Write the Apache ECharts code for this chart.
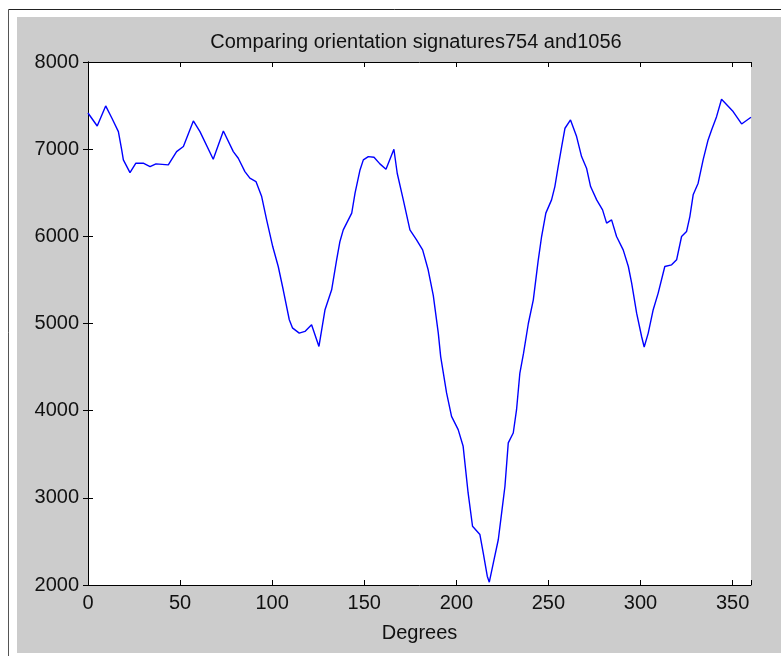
<!DOCTYPE html>
<html>
<head>
<meta charset="utf-8">
<script src="https://cdn.jsdelivr.net/npm/echarts@6/dist/echarts.min.js"></script>
<style>
html,body{margin:0;padding:0;background:#fff;}
#chart{width:781px;height:656px;}
</style>
</head>
<body>
<div id="chart"></div>
<script>
const titleText = 'Comparing orientation signatures754 and1056';
const xAxisName = 'Degrees';
const xTicks = [0, 50, 100, 150, 200, 250, 300, 350];
const yTicks = [2000, 3000, 4000, 5000, 6000, 7000, 8000];

const degrees = [0, 5, 9.6, 13, 16.5, 18.3, 19.2, 22.8, 26, 30, 33.7, 36.9, 43.6, 48.1, 51.8, 57.2, 60.8, 68, 73.5, 78.9, 81.6, 85.2, 87.9, 91.2, 94.3, 97, 100.3, 103.3, 106, 109.3, 111, 114.7, 117.8, 121.4, 125.4, 128.7, 132.3, 135, 136.8, 138.6, 143.2, 145, 147.7, 149.5, 152.2, 155.3, 158.5, 161.8, 166.1, 167.9, 171.2, 174.8, 178.4, 181.7, 184.7, 187.5, 190.2, 191.5, 194.7, 197.4, 201, 203.7, 206.4, 208.8, 212.8, 214.6, 216.8, 217.9, 220.1, 222.8, 224.6, 226.4, 228.2, 230.9, 232.7, 234.5, 236.5, 239.1, 241.8, 243.6, 244.5, 246.3, 248.6, 251.7, 253.5, 255.3, 257.2, 259, 262, 265.3, 268, 270.7, 272.9, 276.2, 279.4, 281.6, 284.3, 287, 290.6, 293.4, 295.2, 297.9, 300.6, 302, 304.2, 306.9, 309.6, 313.2, 316.9, 319.6, 322.3, 325, 326.8, 328.6, 331.3, 334, 336.7, 338.6, 341.3, 344, 350.3, 354.9, 360];
const values = [7415, 7266, 7496, 7355, 7201, 6991, 6877, 6731, 6839, 6839, 6800, 6831, 6820, 6972, 7030, 7324, 7201, 6885, 7209, 6972, 6896, 6743, 6667, 6628, 6456, 6189, 5883, 5654, 5387, 5043, 4950, 4890, 4909, 4986, 4737, 5158, 5387, 5731, 5941, 6074, 6266, 6495, 6762, 6877, 6915, 6908, 6831, 6770, 6999, 6724, 6418, 6074, 5960, 5845, 5616, 5320, 4890, 4620, 4203, 3935, 3782, 3591, 3056, 2674, 2579, 2369, 2101, 2032, 2254, 2522, 2827, 3133, 3630, 3744, 4011, 4432, 4660, 5000, 5272, 5578, 5731, 5998, 6266, 6418, 6571, 6800, 7030, 7240, 7335, 7144, 6915, 6782, 6571, 6418, 6304, 6151, 6189, 5998, 5845, 5654, 5463, 5119, 4851, 4730, 4890, 5158, 5349, 5654, 5673, 5731, 5998, 6055, 6227, 6476, 6610, 6877, 7106, 7221, 7373, 7572, 7431, 7289, 7366];

const seriesData = degrees.map((d, i) => [d, values[i]]);
const font = '"Liberation Sans", Arial, sans-serif';

const chart = echarts.init(document.getElementById('chart'), null, {renderer: 'canvas'});

const baseX = {
  type: 'value', min: 0, max: 360, interval: 50,
  axisLine: {show: true, lineStyle: {color: '#000', width: 1}},
  axisTick: {show: true, inside: true, length: 5, lineStyle: {color: '#000'}},
  splitLine: {show: false}
};
const baseY = {
  type: 'value', min: 2000, max: 8000, interval: 1000,
  axisLine: {show: true, lineStyle: {color: '#000', width: 1}},
  axisTick: {show: true, inside: true, length: 5, lineStyle: {color: '#000'}},
  splitLine: {show: false}
};

chart.setOption({
  animation: false,
  backgroundColor: '#ffffff',
  graphic: [
    {type: 'rect', z: -100, shape: {x: 17, y: 17, width: 764, height: 636}, style: {fill: '#cccccc'}},
    {type: 'line', z: -100, shape: {x1: 8.5, y1: 9.5, x2: 781, y2: 9.5}, style: {stroke: '#222', lineWidth: 1}},
    {type: 'line', z: -100, shape: {x1: 8.5, y1: 9.5, x2: 8.5, y2: 656}, style: {stroke: '#555', lineWidth: 1}},
    {type: 'text', x: 416, y: 42, style: {text: titleText, font: '20px ' + font, fill: '#111', textAlign: 'center', textVerticalAlign: 'middle'}}
  ],
  grid: {left: 88, top: 62, right: 30, bottom: 71, show: true, backgroundColor: '#ffffff', borderWidth: 0},
  xAxis: [
    Object.assign({}, baseX, {
      position: 'bottom',
      name: xAxisName, nameLocation: 'middle', nameGap: 38,
      nameTextStyle: {color: '#111', fontSize: 20, fontFamily: font},
      axisLabel: {show: true, color: '#111', fontSize: 20, fontFamily: font, margin: 8,
        formatter: v => xTicks.indexOf(v) >= 0 ? String(v) : ''}
    }),
    Object.assign({}, baseX, {position: 'top', axisLabel: {show: false}})
  ],
  yAxis: [
    Object.assign({}, baseY, {
      position: 'left',
      axisLabel: {show: true, color: '#111', fontSize: 20, fontFamily: font, margin: 9,
        formatter: v => yTicks.indexOf(v) >= 0 ? String(v) : ''}
    }),
    Object.assign({}, baseY, {position: 'right', axisLabel: {show: false}})
  ],
  series: [{
    type: 'line', data: seriesData, xAxisIndex: 0, yAxisIndex: 0,
    showSymbol: false, symbol: 'none',
    lineStyle: {color: '#0000ff', width: 1.4},
    clip: true
  }]
});
</script>
</body>
</html>
